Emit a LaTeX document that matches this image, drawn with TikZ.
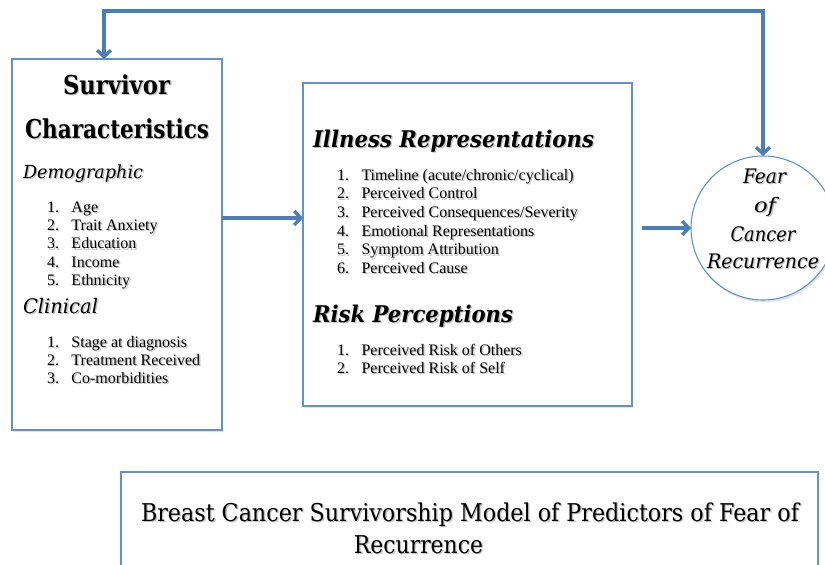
\documentclass[tikz,border=0pt]{standalone}
\usepackage{graphicx}
\usepackage{fontspec}
\setmainfont{Liberation Serif}
\newfontfamily\hf{DejaVu Serif}
\usetikzlibrary{arrows.meta,shadows}
\definecolor{boxc}{RGB}{100,145,205}
\definecolor{arrc}{RGB}{74,126,187}
\newcommand\sh[1]{\leavevmode\rlap{\kern1.4pt\raisebox{-1.6pt}{\color{black!24}#1}}#1}
\newcommand\fw[2]{\resizebox{#1}{\height}{#2}}
\newcommand\li[2]{\makebox[24.5pt][l]{\sh{#1.}}\sh{#2}}
\begin{document}
\begin{tikzpicture}[x=1pt,y=-1pt,
  box/.style={draw=boxc, line width=1.1pt, fill=white, inner sep=0pt, outer sep=0pt, anchor=north west,
    drop shadow={shadow xshift=1.2pt,shadow yshift=-2.2pt,opacity=0.22}},
  arr/.style={draw=arrc, line width=3.3pt, -{Straight Barb[length=6.5pt,width=14pt]}},
  txt/.style={inner sep=0pt, outer sep=0pt},
  item/.style={txt, anchor=base west, font=\fontsize{16}{16}\selectfont},
  headb/.style={txt, font=\hf\bfseries\fontsize{26}{26}\selectfont},
  headbi/.style={txt, anchor=base west, font=\hf\bfseries\itshape\fontsize{23}{23}\selectfont},
  headi/.style={txt, anchor=base west, font=\hf\itshape\fontsize{18}{18}\selectfont},
  circt/.style={txt, anchor=base, font=\hf\itshape\fontsize{20}{20}\selectfont},
  capt/.style={txt, font=\hf\fontsize{24.5}{24.5}\selectfont},
]
\useasboundingbox (0,0) rectangle (825,565);
\clip (0,0) rectangle (825,565);

% boxes
\node[box, minimum width=210pt, minimum height=371pt] (sc) at (12,59) {};
\node[box, minimum width=329pt, minimum height=323pt] (ir) at (303,83) {};
\node[box, minimum width=697pt, minimum height=120pt] (cap) at (121,472) {};
\node[draw=boxc, line width=1.1pt, fill=white, circle, minimum size=144pt, inner sep=0pt, outer sep=0pt,
  drop shadow={shadow xshift=1.2pt,shadow yshift=-2.2pt,opacity=0.22}] (fcr) at (763,228) {};

% left box texts
\node[headb, anchor=base] (t1) at (116.5,94) {\fw{107pt}{\sh{Survivor}}};
\node[headb, anchor=base] (t2) at (117,138) {\fw{184pt}{\sh{Characteristics}}};
\node[headi] (t3) at (23,178) {\fw{120pt}{\sh{Demographic}}};
\foreach \n/\t/\y in {1/Age/212, 2/Trait Anxiety/230, 3/Education/248.5, 4/Income/267, 5/Ethnicity/285}
  \node[item] (d\n) at (47,\y) {\li{\n}{\t}};
\node[headi, font=\hf\itshape\fontsize{20}{20}\selectfont] (t4) at (23,313) {\fw{75pt}{\sh{Clinical}}};
\foreach \n/\t/\y in {1/Stage at diagnosis/347, 2/Treatment Received/365, 3/Co-morbidities/383}
  \node[item] (c\n) at (47,\y) {\li{\n}{\t}};

% middle box texts
\node[headbi] (t5) at (313,147) {\fw{281pt}{\sh{Illness Representations}}};
\foreach \n/\t/\y in {1/{Timeline (acute/chronic/cyclical)}/180, 2/Perceived Control/198.5, 3/{Perceived Consequences/Severity}/217, 4/Emotional Representations/236, 5/Symptom Attribution/254.5, 6/Perceived Cause/273}
  \node[item] (i\n) at (337,\y) {\li{\n}{\t}};
\node[headbi] (t6) at (313,322) {\fw{200pt}{\sh{Risk Perceptions}}};
\foreach \n/\t/\y in {1/Perceived Risk of Others/355, 2/Perceived Risk of Self/373}
  \node[item] (r\n) at (337,\y) {\li{\n}{\t}};

% circle texts
\node[circt] (f1) at (764.5,183) {\fw{43pt}{\sh{Fear}}};
\node[circt] (f2) at (765,212) {\fw{22pt}{\sh{of}}};
\node[circt] (f3) at (763,241) {\fw{65pt}{\sh{Cancer}}};
\node[circt] (f4) at (763,268) {\fw{112pt}{\sh{Recurrence}}};

% caption texts
\node[capt, anchor=base west] (b1) at (141,521) {\fw{658pt}{\sh{Breast Cancer Survivorship Model of Predictors of Fear of}}};
\node[capt, anchor=base] (b2) at (418.5,553) {\fw{129pt}{\sh{Recurrence}}};

% connectors
\coordinate (tl) at (104,11);
\coordinate (y1) at (0,218);
\draw[arr, {Straight Barb[length=6.5pt,width=14pt]}-{Straight Barb[length=6.5pt,width=14pt]}, line join=miter]
  (fcr.north) -- (fcr.north |- tl) -- (tl) -- (tl |- sc.north);
\draw[arr] (sc.east |- y1) -- (ir.west |- y1);
\draw[arr] ([xshift=10pt]ir.east |- fcr.west) -- (fcr.west);
\end{tikzpicture}
\end{document}
